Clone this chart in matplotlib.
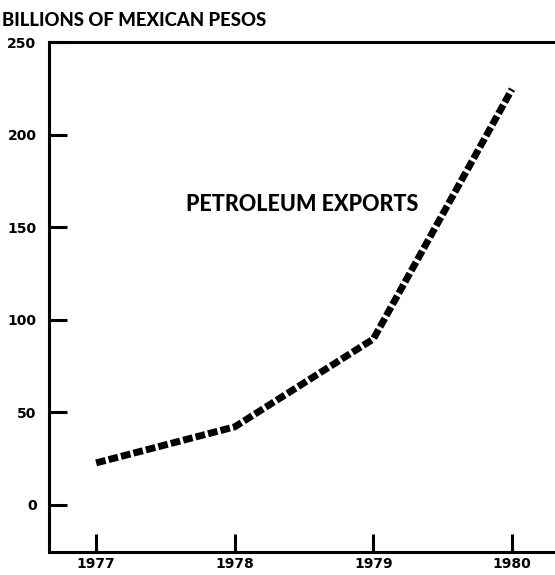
import matplotlib
matplotlib.use("Agg")
import matplotlib.pyplot as plt

years = [1977, 1978, 1979, 1980]
exports = [22.5, 42, 89.5, 224.5]
yticks = [0, 50, 100, 150, 200, 250]
ylabel = "BILLIONS OF MEXICAN PESOS"
series_label = "PETROLEUM EXPORTS"

fig = plt.figure(figsize=(5.55, 5.75), dpi=100)
ax = fig.add_axes([49/555, (575-551.7)/575, 1 - 49/555, (551.7-42)/575])
ax.plot(years, exports, color="black", lw=5, linestyle=(0, (1.4, 0.45)),
        solid_capstyle="butt", dash_capstyle="butt")
ax.set_xlim(1976.66, 1980.31)
ax.set_ylim(-25.5, 250)
ax.set_yticks(yticks)
ax.set_xticks(years)
ax.set_yticklabels([str(v) for v in yticks], fontsize=10, fontweight="bold",
                   family="DejaVu Sans")
ax.set_xticklabels([str(v) for v in years], fontsize=10, fontweight="bold",
                   family="DejaVu Sans")
ax.tick_params(axis="both", direction="in", length=13, width=2.2, color="black")
ax.tick_params(axis="y", pad=9)
ax.tick_params(axis="x", pad=4)
for s in ["left", "top", "bottom"]:
    ax.spines[s].set_linewidth(2.2)
ax.spines["right"].set_visible(False)
fig.text(2/555, 1 - 20/575, ylabel, fontsize=13.3, fontweight=900,
         family="Lato", va="center", ha="left")
ax.text(1977.65, 162, series_label, fontsize=15.5, fontweight=900,
        family="Lato", va="center", ha="left")
fig.savefig("out.png", dpi=100)
